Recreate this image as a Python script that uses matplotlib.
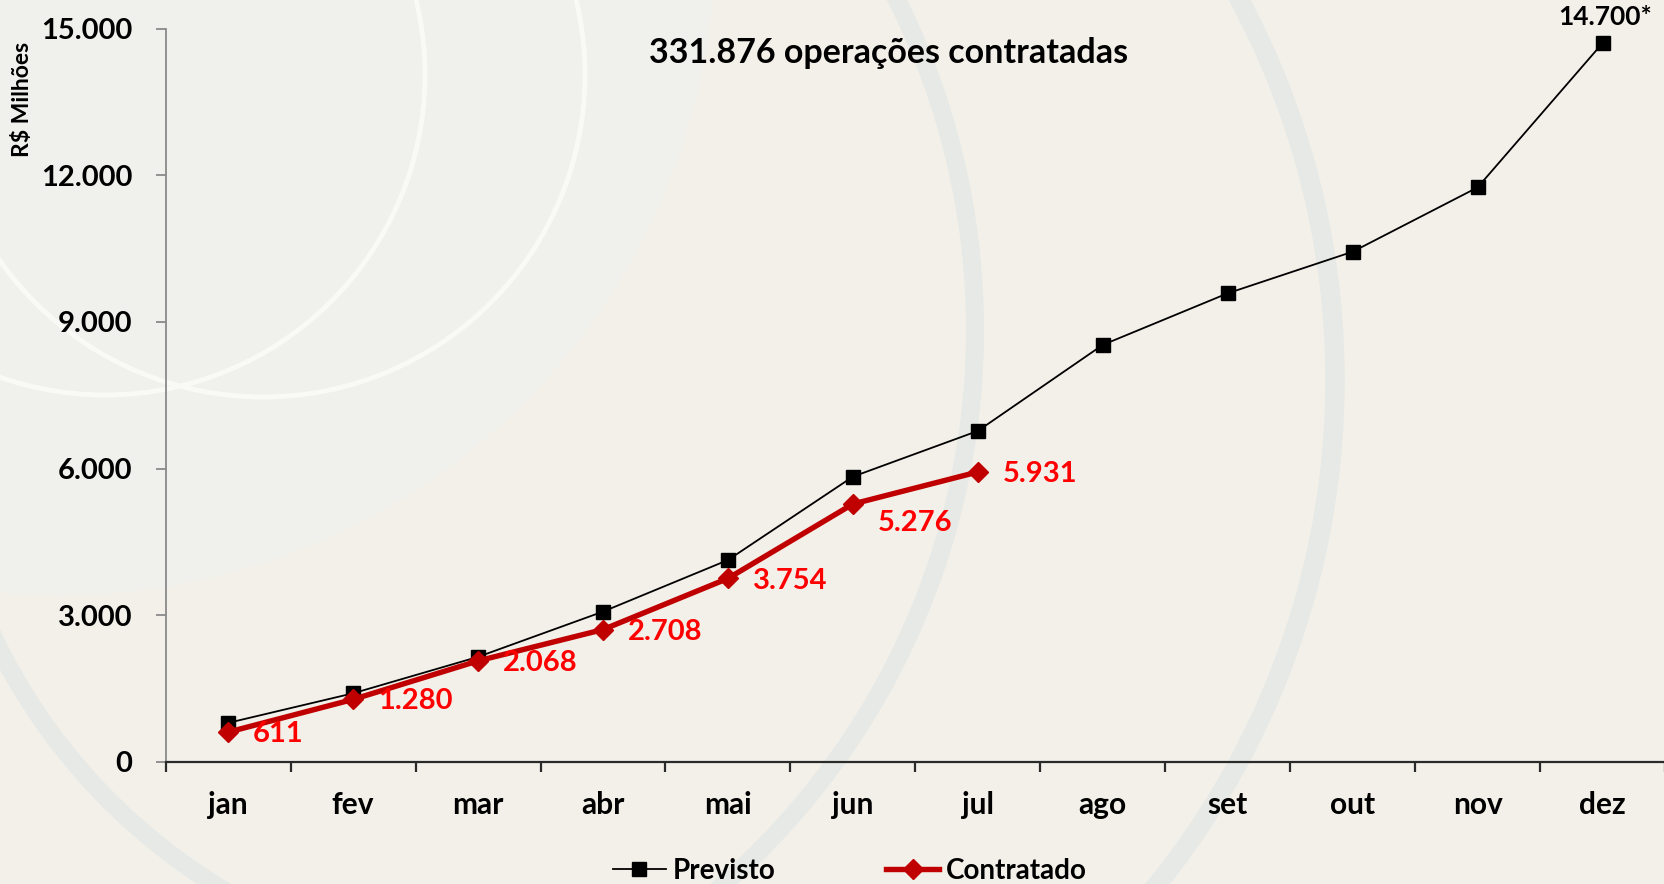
import matplotlib
matplotlib.use("Agg")
import matplotlib.pyplot as plt
from matplotlib.patches import Circle, Arc
from matplotlib.ticker import FixedLocator

# ---------------- data ----------------
months = ["jan", "fev", "mar", "abr", "mai", "jun", "jul", "ago", "set", "out", "nov", "dez"]
previsto = [800, 1405, 2150, 3075, 4130, 5835, 6770, 8530, 9585, 10435, 11750, 14700]
contratado = [611, 1280, 2068, 2708, 3754, 5276, 5931]
contratado_labels = ["611", "1.280", "2.068", "2.708", "3.754", "5.276", "5.931"]
yticks = [0, 3000, 6000, 9000, 12000, 15000]
ytick_labels = ["0", "3.000", "6.000", "9.000", "12.000", "15.000"]
title = "331.876 operações contratadas"
ylabel = "R$ Milhões"
dez_label = "14.700*"
series_names = ["Previsto", "Contratado"]

FONT = "Lato"
plt.rcParams["font.family"] = [FONT, "DejaVu Sans"]
plt.rcParams["font.weight"] = "bold"

W, H = 1665, 884
fig = plt.figure(figsize=(W / 100, H / 100), dpi=100)
BG = "#F3F0EA"
fig.patch.set_facecolor(BG)

# ---------------- decorative background ----------------
bg = fig.add_axes([0, 0, 1, 1], zorder=0)
bg.set_xlim(0, W)
bg.set_ylim(H, 0)
bg.axis("off")
bg.add_patch(Circle((60, -60), 655, facecolor="#F0F0EC", edgecolor="none"))
ring = "#E6E9E6"
bg.add_patch(Circle((238, 330), 737, facecolor="none", edgecolor=ring, lw=13))
bg.add_patch(Circle((530, 380), 805, facecolor="none", edgecolor=ring, lw=14))
bg.add_patch(Arc((530, 380), 2 * 595, 2 * 595, theta1=95, theta2=178, edgecolor=ring, lw=13))
white = "#F9F9F5"
bg.add_patch(Circle((105, 75), 320, facecolor="none", edgecolor=white, lw=3.5))
bg.add_patch(Circle((263, 75), 322, facecolor="none", edgecolor=white, lw=3.5))

# ---------------- main chart ----------------
left, right = 165.7 / W, 1.0
bottom, top = 1 - 762 / H, 1 - 28.5 / H
ax = fig.add_axes([left, bottom, right - left, top - bottom], zorder=1)
ax.set_facecolor("none")

x_prev = list(range(len(months)))
x_con = list(range(len(contratado)))

ax.plot(x_prev, previsto, color="black", lw=1.3, marker="s", ms=9.5,
        markerfacecolor="black", markeredgecolor="black", label=series_names[0], zorder=3)
ax.plot(x_con, contratado, color="#C00000", lw=3.9, marker="D", ms=10.5,
        markerfacecolor="#C00000", markeredgecolor="#C00000", label=series_names[1], zorder=4)

ax.set_xlim(-0.5, len(months) - 0.5)
ax.set_ylim(0, 15000)

# spines
for s in ["top", "right"]:
    ax.spines[s].set_visible(False)
ax.spines["left"].set_color("#8A8A8A")
ax.spines["left"].set_linewidth(1.3)
ax.spines["bottom"].set_color("#2A2A2A")
ax.spines["bottom"].set_linewidth(1.6)

# y ticks
ax.yaxis.set_major_locator(FixedLocator(yticks))
ax.set_yticklabels(ytick_labels, fontsize=21, fontweight="bold", color="black")
ax.tick_params(axis="y", length=7, width=1.3, color="#8A8A8A", pad=17)

# x ticks: labels at centers, tick marks at boundaries
ax.set_xticks(x_prev)
ax.set_xticklabels(months, fontsize=21.5, fontweight="bold", color="black")
ax.tick_params(axis="x", which="major", length=0, pad=21)
ax.xaxis.set_minor_locator(FixedLocator([i - 0.5 for i in range(len(months) + 1)]))
ax.tick_params(axis="x", which="minor", length=7, width=1.6, color="#2A2A2A")

# data labels
for i, (v, lab) in enumerate(zip(contratado, contratado_labels)):
    dy = -14 if i == 5 else -1.5
    ax.annotate(lab, (i, v), xytext=(18, dy), textcoords="offset points",
                ha="left", va="center", fontsize=21, fontweight="bold",
                color="#FF0000", zorder=5)
ax.annotate(dez_label, (len(months) - 1, previsto[-1]), xytext=(2, 19),
            textcoords="offset points", ha="center", va="center",
            fontsize=19, fontweight="bold", color="black")

# title and y label
fig.text(889 / W, 1 - 53 / H, title, ha="center", va="center",
         fontsize=24.5, fontweight="bold", color="black")
fig.text(23 / W, 1 - 99 / H, ylabel, rotation=90, ha="center", va="center",
         fontsize=16.5, fontweight="bold", color="black")

# legend
leg = fig.legend(loc="center", bbox_to_anchor=(850 / W, 1 - 871 / H), ncol=2,
                 frameon=False, handlelength=1.9, handletextpad=0.25,
                 columnspacing=4.0, prop={"family": [FONT, "DejaVu Sans"], "weight": "bold", "size": 20})

fig.savefig("out.png", dpi=100, facecolor=BG)
